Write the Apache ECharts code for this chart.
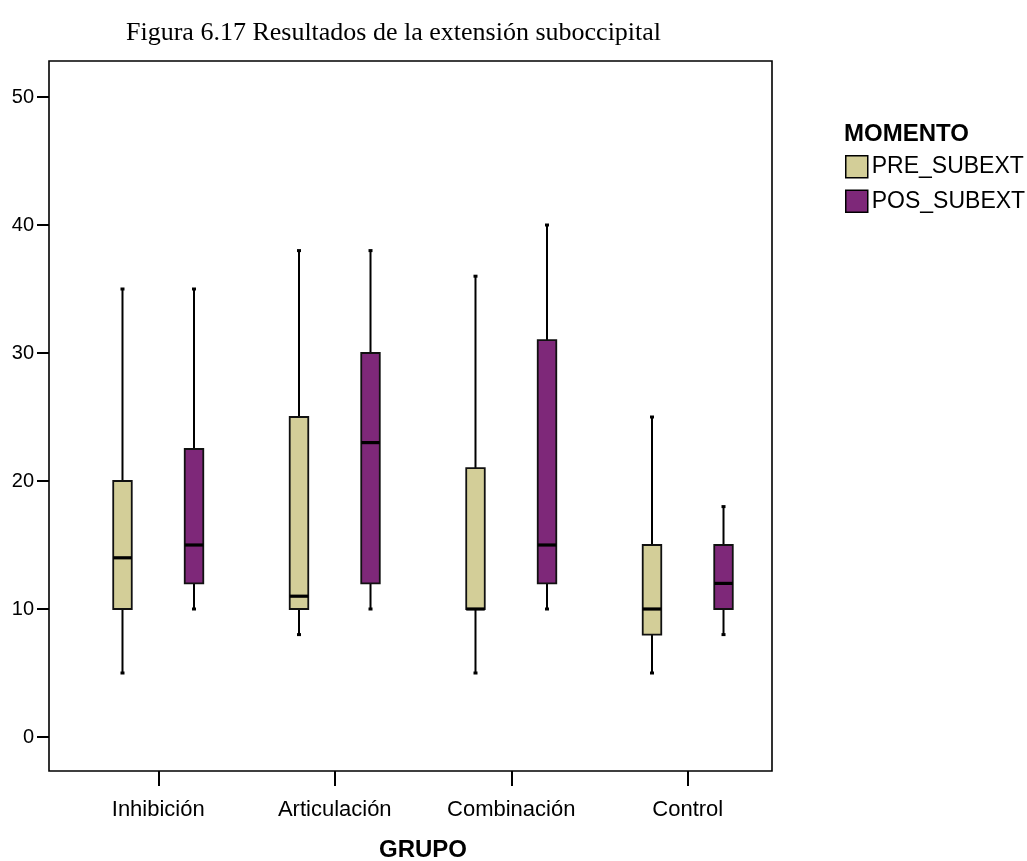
<!DOCTYPE html>
<html>
<head>
<meta charset="utf-8">
<script src="https://cdn.jsdelivr.net/npm/echarts@6/dist/echarts.min.js"></script>
<style>html,body{margin:0;padding:0;background:#fff;}#c{width:1027px;height:861px;}</style>
</head>
<body>
<div id="c"></div>
<script>
// ---- data ----
const categories = ['Inhibición', 'Articulación', 'Combinación', 'Control'];
// [min, Q1, median, Q3, max]
const preStats = [[5, 10, 14, 20, 35], [8, 10, 11, 25, 38], [5, 10, 10, 21, 36], [5, 8, 10, 15, 25]];
const posStats = [[10, 12, 15, 22.5, 35], [10, 12, 23, 30, 38], [10, 12, 15, 31, 40], [8, 10, 12, 15, 18]];
const seriesNames = ['PRE_SUBEXT', 'POS_SUBEXT'];
const yTicks = [0, 10, 20, 30, 40, 50];

const colors = ['#d3ce98', '#7e2879'];
const sans = '"Liberation Sans", Arial, sans-serif';
const serif = '"Liberation Serif", "Times New Roman", serif';

function makeRender(offsetFrac, fill) {
  return function (params, api) {
    const xi = api.value(0);
    const band = api.size([1, 0])[0];
    const cx = api.coord([xi, 0])[0] + offsetFrac * band;
    const Y = v => api.coord([xi, v])[1];
    const bw = 0.105 * band;
    const vmin = api.value(1), q1 = api.value(2), med = api.value(3), q3 = api.value(4), vmax = api.value(5);
    const lineStyle = { stroke: '#000', lineWidth: 2 };
    return {
      type: 'group',
      children: [
        { type: 'line', shape: { x1: cx, y1: Y(q3), x2: cx, y2: Y(vmax) }, style: lineStyle },
        { type: 'line', shape: { x1: cx, y1: Y(q1), x2: cx, y2: Y(vmin) }, style: lineStyle },
        { type: 'line', shape: { x1: cx - 2, y1: Y(vmax), x2: cx + 2, y2: Y(vmax) }, style: { stroke: '#000', lineWidth: 3 } },
        { type: 'line', shape: { x1: cx - 2, y1: Y(vmin), x2: cx + 2, y2: Y(vmin) }, style: { stroke: '#000', lineWidth: 3 } },
        { type: 'rect', shape: { x: cx - bw / 2, y: Y(q3), width: bw, height: Y(q1) - Y(q3) },
          style: { fill: fill, stroke: '#111', lineWidth: 1.8 } },
        { type: 'line', shape: { x1: cx - bw / 2, y1: Y(med), x2: cx + bw / 2, y2: Y(med) }, style: { stroke: '#000', lineWidth: 3.2 } }
      ]
    };
  };
}

function toData(stats) {
  return stats.map((s, i) => [i].concat(s));
}

const chart = echarts.init(document.getElementById('c'), null, { renderer: 'canvas' });
chart.setOption({
  animation: false,
  backgroundColor: '#fff',
  title: [
    { text: 'Figura 6.17 Resultados de la extensión suboccipital', left: 121, top: 15,
      textStyle: { fontFamily: serif, fontSize: 26, fontWeight: 'normal', color: '#000' } },
    { text: 'MOMENTO', left: 839, top: 117,
      textStyle: { fontFamily: sans, fontSize: 24, fontWeight: 'bold', color: '#000' } }
  ],
  legend: {
    orient: 'vertical', left: 840, top: 150, itemWidth: 22, itemHeight: 22, itemGap: 11,
    icon: 'rect',
    textStyle: { fontFamily: sans, fontSize: 23, color: '#000', padding: [0, 0, 0, -1] },
    data: seriesNames.map((n, i) => ({ name: n, itemStyle: { color: colors[i], borderColor: '#000', borderWidth: 1.5 } }))
  },
  grid: [
    { left: 49, right: 255, top: 61, bottom: 90, show: true, borderColor: '#000', borderWidth: 1.6, backgroundColor: 'transparent', outerBoundsMode: 'none', containLabel: false },
    { left: 70, right: 251, top: 97, bottom: 124, outerBoundsMode: 'none', containLabel: false },
    { left: 70, right: 251, top: 61, bottom: 90, outerBoundsMode: 'none', containLabel: false }
  ],
  xAxis: [
    { gridIndex: 0, type: 'value', show: false, min: 0, max: 1 },
    { gridIndex: 1, type: 'category', data: categories, show: false },
    { gridIndex: 2, type: 'category', data: categories, boundaryGap: true,
      axisLine: { show: false },
      axisTick: { show: true, alignWithLabel: true, length: 15, lineStyle: { color: '#000', width: 2 } },
      axisLabel: { fontFamily: sans, fontSize: 22, color: '#000', margin: 28 },
      name: 'GRUPO', nameLocation: 'middle', nameGap: 67,
      nameTextStyle: { fontFamily: sans, fontSize: 24, fontWeight: 'bold', color: '#000' } }
  ],
  yAxis: [
    { gridIndex: 0, type: 'value', show: false, min: 0, max: 1 },
    { gridIndex: 1, type: 'value', min: yTicks[0], max: yTicks[yTicks.length - 1], interval: 10, offset: 21,
      axisLine: { show: false }, splitLine: { show: false },
      axisTick: { show: true, length: 12, lineStyle: { color: '#000', width: 2 } },
      axisLabel: { fontFamily: sans, fontSize: 20, color: '#000', margin: 15 } },
    { gridIndex: 2, type: 'value', show: false, min: 0, max: 1 }
  ],
  series: [
    { name: seriesNames[0], type: 'custom', xAxisIndex: 1, yAxisIndex: 1,
      itemStyle: { color: colors[0] },
      renderItem: makeRender(-0.2026, colors[0]), encode: { x: 0, y: [1, 2, 3, 4, 5] }, data: toData(preStats) },
    { name: seriesNames[1], type: 'custom', xAxisIndex: 1, yAxisIndex: 1,
      itemStyle: { color: colors[1] },
      renderItem: makeRender(0.2026, colors[1]), encode: { x: 0, y: [1, 2, 3, 4, 5] }, data: toData(posStats) }
  ]
});
</script>
</body>
</html>
